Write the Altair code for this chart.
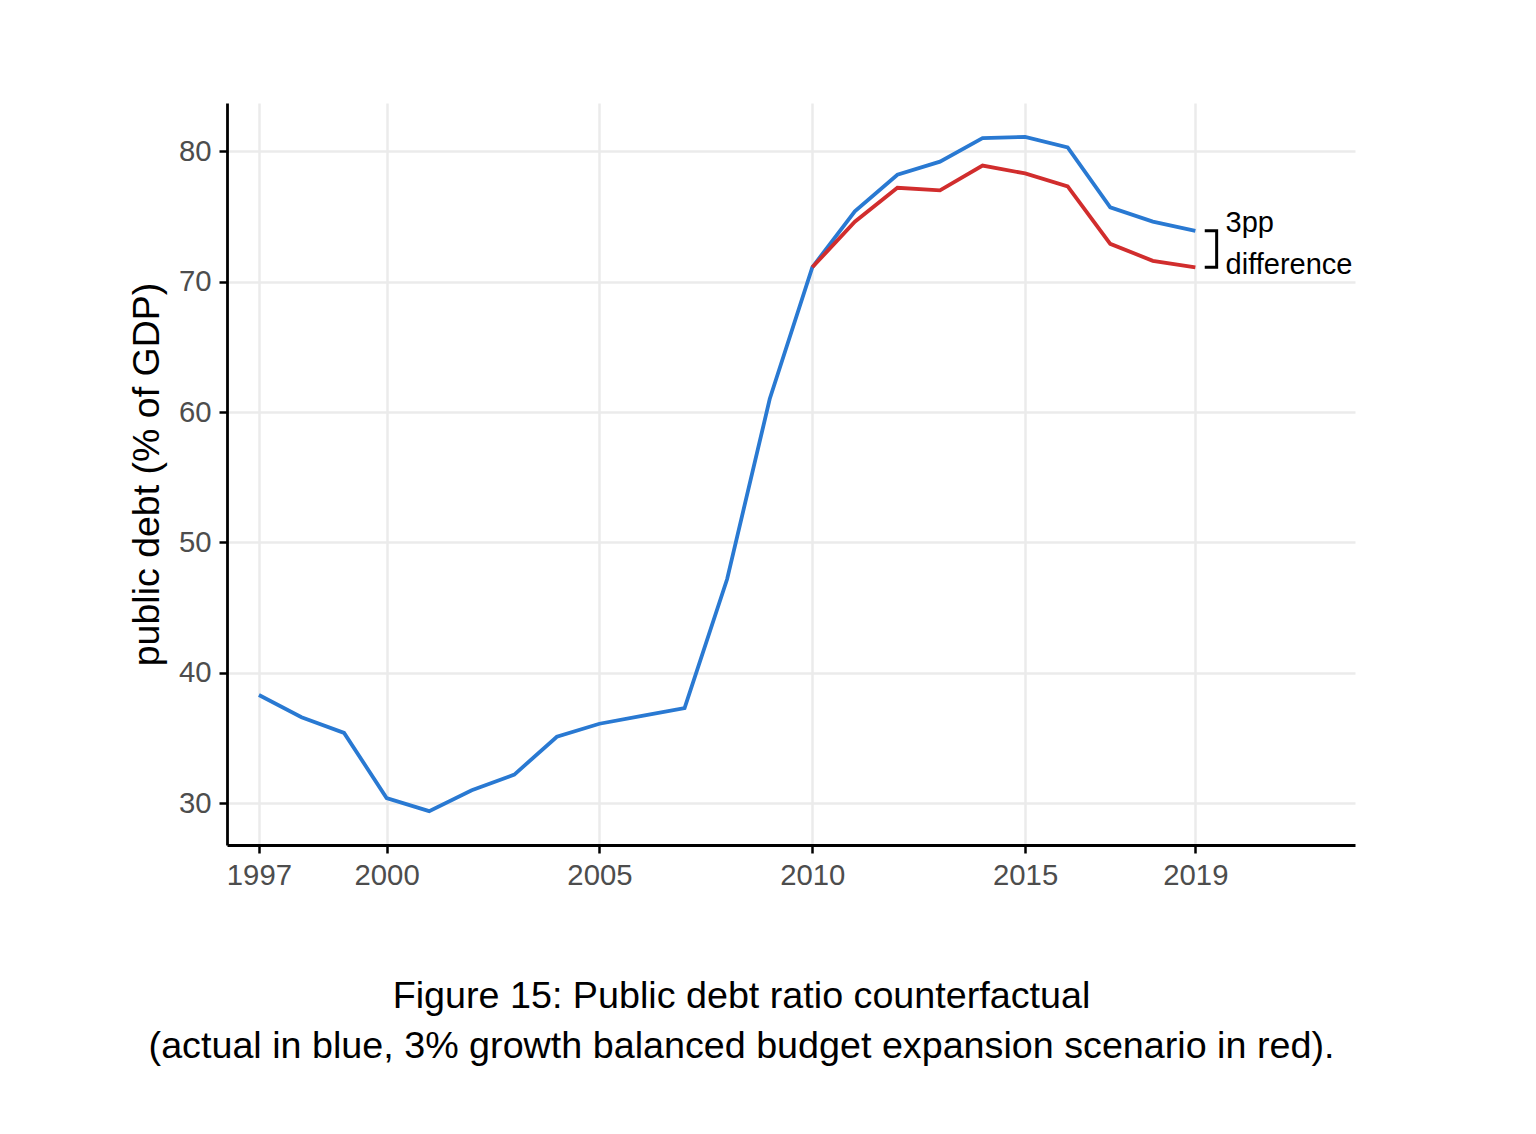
import altair as alt
import pandas as pd

years = list(range(1997, 2020))
actual = [38.3, 36.6, 35.4, 30.4, 29.4, 31.0, 32.2, 35.1, 36.1, 36.7, 37.3,
          47.2, 61.0, 71.1, 75.4, 78.2, 79.2, 81.0, 81.1, 80.3, 75.7, 74.6, 73.9]
scen_years = list(range(2010, 2020))
scenario = [71.1, 74.6, 77.2, 77.0, 78.9, 78.3, 77.3, 72.9, 71.6, 71.1]

x_ticks = [1997, 2000, 2005, 2010, 2015, 2019]
y_ticks = [30, 40, 50, 60, 70, 80]
annot_top = "3pp"
annot_bottom = "difference"
caption = ["Figure 15: Public debt ratio counterfactual",
           "(actual in blue, 3% growth balanced budget expansion scenario in red)."]

BLUE = "#2979d2"
RED = "#d12d2d"
FONT = "Liberation Sans"

df_a = pd.DataFrame({"year": years, "debt": actual})
df_s = pd.DataFrame({"year": scen_years, "debt": scenario})

xs = alt.Scale(domain=[1996.25, 2022.75], nice=False, zero=False)
ys = alt.Scale(domain=[26.8, 83.7], nice=False, zero=False)

x_enc = alt.X("year:Q", scale=xs, axis=alt.Axis(values=x_ticks, format="d", title=None,
              grid=True, labelPadding=8, tickSize=8))
y_enc = alt.Y("debt:Q", scale=ys, axis=alt.Axis(values=y_ticks, title="public debt (% of GDP)",
              grid=True, labelPadding=8, tickSize=8, titleX=-80, titleY=371,
              titleBaseline="middle", titleAngle=270))

line_a = alt.Chart(df_a).mark_line(color=BLUE, strokeWidth=3.8).encode(x=x_enc, y=y_enc)
line_s = alt.Chart(df_s).mark_line(color=RED, strokeWidth=3.8).encode(x="year:Q", y="debt:Q")

end_blue = actual[-1]
end_red = scenario[-1]
last = years[-1]
df_br = pd.DataFrame({
    "year": [last + 0.22, last + 0.5, last + 0.5, last + 0.22],
    "debt": [end_blue, end_blue, end_red, end_red],
    "ord": [0, 1, 2, 3],
})
bracket = alt.Chart(df_br).mark_line(color="black", strokeWidth=3, strokeJoin="miter").encode(
    x="year:Q", y="debt:Q", order="ord:Q")

df_t = pd.DataFrame({"year": [last + 0.71, last + 0.71], "debt": [end_blue, end_red],
                     "label": [annot_top, annot_bottom]})
txt_top = alt.Chart(df_t.iloc[[0]]).mark_text(align="left", baseline="alphabetic", font=FONT,
                                               fontSize=29, color="black", dy=1).encode(
    x="year:Q", y="debt:Q", text="label:N")
txt_bot = alt.Chart(df_t.iloc[[1]]).mark_text(align="left", baseline="alphabetic", font=FONT,
                                               fontSize=29, color="black", dy=7).encode(
    x="year:Q", y="debt:Q", text="label:N")

chart = alt.layer(line_a, line_s, bracket, txt_top, txt_bot).properties(
    width=1128, height=742,
    background="white",
    autosize=alt.AutoSizeParams(type="none"),
    padding={"left": 219, "top": 95, "right": 170, "bottom": 270},
    title=alt.TitleParams(text=caption, orient="bottom", anchor="middle", frame="bounds",
                          font=FONT, fontSize=37.7, fontWeight="normal", color="black",
                          lineHeight=50, offset=88),
).configure_view(strokeWidth=0, stroke="transparent").configure_axis(
    domainColor="black", domainWidth=2.8, tickColor="black", tickWidth=2.5,
    gridColor="#ebebeb", gridWidth=2.5, labelFont=FONT, labelFontSize=29.3,
    labelColor="#4d4d4d", titleFont=FONT, titleFontSize=37.5, titleFontWeight="normal",
    titleColor="black")

chart.save("out.html", embed_options={"renderer": "svg", "actions": False})
